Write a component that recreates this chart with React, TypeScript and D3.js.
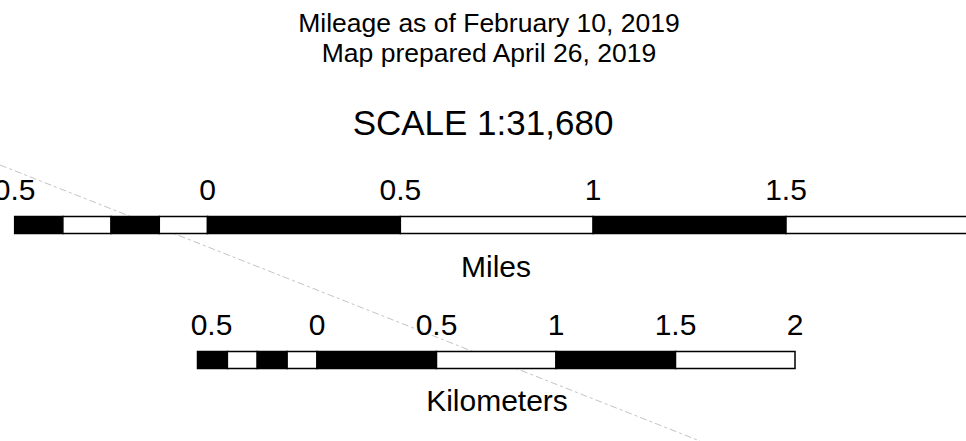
import React from "react";
import * as d3 from "d3";

const headerLines = ["Mileage as of February 10, 2019", "Map prepared April 26, 2019"];
const scaleTitle = "SCALE 1:31,680";

// Miles bar
const mileBreaks = [-0.5, -0.375, -0.25, -0.125, 0, 0.5, 1, 1.5, 2];
const mileTickValues = [-0.5, 0, 0.5, 1, 1.5];
const mileTickLabels = ["0.5", "0", "0.5", "1", "1.5"];
const mileUnit = "Miles";

// Kilometers bar
const kmBreaks = [-0.5, -0.375, -0.25, -0.125, 0, 0.5, 1, 1.5, 2];
const kmTickValues = [-0.5, 0, 0.5, 1, 1.5, 2];
const kmTickLabels = ["0.5", "0", "0.5", "1", "1.5", "2"];
const kmUnit = "Kilometers";

const W = 966;
const H = 441;
const FONT = "'Liberation Sans', Arial, sans-serif";

function Bar({ breaks, x, y, h }: { breaks: number[]; x: d3.ScaleLinear<number, number>; y: number; h: number }) {
  const segs = d3.pairs(breaks);
  return (
    <g>
      {segs.map(([a, b], i) => (
        <rect
          key={i}
          x={x(a)}
          y={y}
          width={x(b) - x(a)}
          height={h}
          fill={i % 2 === 0 ? "#000" : "#fff"}
          stroke="#000"
          strokeWidth={1.5}
        />
      ))}
    </g>
  );
}

export default function App() {
  const xMi = d3.scaleLinear().domain([0, 1.5]).range([207.5, 786]);
  const xKm = d3.scaleLinear().domain([0, 2]).range([317, 795]);
  const cx = 489;

  return (
    <svg width={W} height={H} style={{ position: "absolute", left: 0, top: 0, background: "#fff" }} fontFamily={FONT}>
      <rect width={W} height={H} fill="#fff" />
      <line x1={0} y1={165} x2={700} y2={441} stroke="#c4c4c4" strokeWidth={1} strokeDasharray="7,3,3,3" />
      {headerLines.map((t, i) => (
        <text key={i} x={cx} y={32 + i * 30} textAnchor="middle" fontSize={26.5} fill="#000">
          {t}
        </text>
      ))}
      <text x={483} y={135} textAnchor="middle" fontSize={35} fill="#000">
        {scaleTitle}
      </text>

      {mileTickValues.map((v, i) => (
        <text key={i} x={xMi(v)} y={200} textAnchor="middle" fontSize={30} fill="#000">
          {mileTickLabels[i]}
        </text>
      ))}
      <Bar breaks={mileBreaks} x={xMi} y={216.5} h={17} />
      <text x={496} y={277} textAnchor="middle" fontSize={30} fill="#000">
        {mileUnit}
      </text>

      {kmTickValues.map((v, i) => (
        <text key={i} x={xKm(v) + (i === 0 ? 14 : 0)} y={335} textAnchor="middle" fontSize={30} fill="#000">
          {kmTickLabels[i]}
        </text>
      ))}
      <Bar breaks={kmBreaks} x={xKm} y={351.5} h={17} />
      <text x={497} y={411} textAnchor="middle" fontSize={30} fill="#000">
        {kmUnit}
      </text>
    </svg>
  );
}
